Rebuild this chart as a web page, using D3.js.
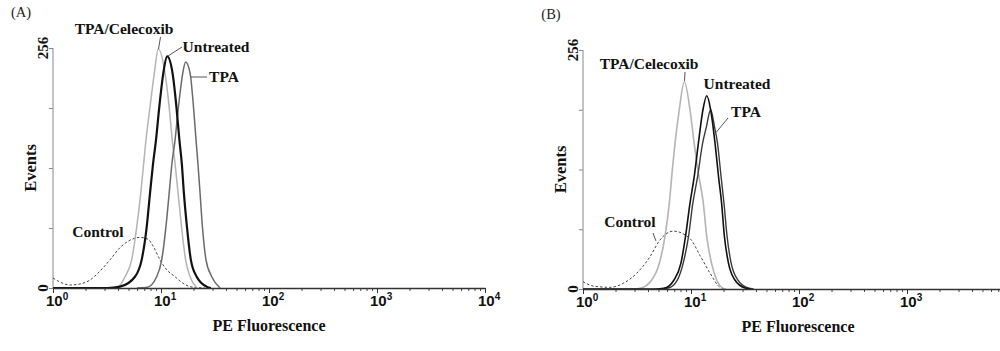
<!DOCTYPE html>
<html>
<head>
<meta charset="utf-8">
<script src="https://cdn.jsdelivr.net/npm/d3@7"></script>
<style>
  html, body { margin: 0; padding: 0; background: #fff; }
  svg { display: block; font-family: "Liberation Serif", "Times New Roman", serif; }
  .lbl { font-weight: bold; font-size: 15.5px; fill: #111; }
</style>
</head>
<body>
<div id="chart"></div>
<script>
// Data: [PE fluorescence, events]
const aControl = [[1, 10.7], [1.16, 6.4], [1.44, 3.2], [1.78, 4.3], [2.2, 8.5], [2.72, 18], [3.37, 30], [4.17, 43], [5.16, 51], [6.39, 54], [7.58, 52], [8.61, 43], [9.79, 30], [11.4, 19], [13.5, 12], [16.0, 5], [19.4, 1], [25.5, 0]];
const aCelecoxib = [[1, 0], [3.75, 0], [4.17, 3], [4.64, 12], [5.35, 30], [5.96, 65], [6.49, 101], [6.86, 129], [7.26, 158], [7.91, 193], [8.67, 229], [9.44, 255], [10.9, 229], [11.9, 193], [12.7, 158], [13.6, 129], [14.4, 101], [15.5, 65], [16.9, 30], [18.6, 12], [21.4, 0]];
const aUntreated = [[1, 0], [3.2, 0], [4.17, 1.4], [5.74, 12], [6.62, 30], [7.37, 65], [7.91, 101], [8.43, 132], [8.99, 158], [9.64, 193], [10.5, 229], [11.4, 247], [12.8, 229], [13.9, 193], [14.8, 158], [15.6, 132], [16.3, 101], [17.4, 65], [18.9, 30], [21.4, 12], [26.5, 1.4], [29, 0]];
const aTPA = [[6, 0], [7.37, 0.5], [9.12, 12], [10.15, 30], [11.1, 65], [11.9, 101], [12.6, 132], [13.5, 158], [14.5, 193], [15.9, 229], [16.9, 241], [18.6, 229], [20.0, 193], [21.1, 158], [22.0, 132], [23.0, 101], [24.2, 65], [26.1, 30], [29.5, 12], [35.2, 0]];

const bControl = [[1, 7.8], [1.24, 3.2], [1.78, 1.8], [2.36, 6.1], [3.14, 16.8], [4.17, 34.6], [5.16, 52.5], [6.86, 62], [9.79, 54], [12.1, 36], [15.0, 17], [18.6, 1.8], [21, 0]];
const bCelecoxib = [[1, 0], [3.0, 0], [3.37, 0.7], [4.33, 9.6], [5.09, 27.5], [5.74, 56], [6.30, 92], [6.71, 127], [7.11, 156], [7.79, 192], [8.67, 222], [9.79, 192], [10.7, 156], [11.7, 124], [13.0, 92], [14.0, 56], [15.5, 27.5], [17.3, 9.6], [19.9, 0.7], [21, 0]];
const bUntreated = [[1, 0], [4.64, 0], [5.62, 0.7], [6.96, 9.6], [8.08, 28], [8.89, 56], [9.79, 92], [10.7, 120], [11.7, 156], [12.9, 192], [14.0, 207], [15.2, 192], [16.7, 156], [18.0, 120], [19.2, 92], [20.4, 56], [22.2, 28], [25.5, 9.6], [31.6, 1.1], [36, 0]];
const bTPA = [[5.16, 0], [6.16, 1.1], [7.47, 9.6], [8.48, 28], [9.48, 56], [10.4, 92], [11.5, 120], [12.8, 156], [13.9, 174], [15.2, 192], [16.5, 174], [17.6, 156], [19.0, 120], [20.2, 92], [21.6, 56], [23.5, 28], [27.2, 9.6], [33.7, 1.1], [38, 0]];

// Axes
const decades = [1, 10, 100, 1000, 10000];
const decadeExponents = ['0', '1', '2', '3', '4'];
const yTicks = [0, 64, 128, 192, 256];
const yTickLabels = ['0', '', '', '', '256'];

// Minor ticks 2..9 in every decade
const minorTicks = [];
decades.slice(0, -1).forEach(d => {
    for (let k = 2; k <= 9; k++) minorTicks.push(d * k);
});

const width = 1000, height = 351;
const svg = d3.select('#chart').append('svg')
    .attr('width', width)
    .attr('height', height);

// Panel layouts (pixel positions only)
const panels = [
    {
        tag: '(A)', tagPos: [21, 17],
        xRange: [53, 485], yRange: [288, 48],
        eventsX: 31, titleX: 269, titleY: 331,
        series: [
            { data: aControl, color: '#444', w: 1, dash: '2.5,2' },
            { data: aCelecoxib, color: '#b4b4b4', w: 1.5 },
            { data: aTPA, color: '#6a6a6a', w: 1.5 },
            { data: aUntreated, color: '#111', w: 2.2 }
        ],
        labels: [
            { text: 'TPA/Celecoxib', x: 124, y: 29, line: [[160.5, 37], [158.5, 49]] },
            { text: 'Untreated', x: 216, y: 47, line: [[182, 47], [168, 56]] },
            { text: 'TPA', x: 224, y: 77, line: [[191, 77], [207, 77]] },
            { text: 'Control', x: 98, y: 232 }
        ]
    },
    {
        tag: '(B)', tagPos: [551, 19],
        xRange: [583, 1015], yRange: [289, 50],
        eventsX: 561, titleX: 798, titleY: 332,
        series: [
            { data: bControl, color: '#444', w: 1, dash: '2.5,2' },
            { data: bCelecoxib, color: '#b4b4b4', w: 1.6 },
            { data: bTPA, color: '#3a3a3a', w: 1.4 },
            { data: bUntreated, color: '#111', w: 1.6 }
        ],
        labels: [
            { text: 'TPA/Celecoxib', x: 649, y: 64, line: [[685, 72], [684.5, 81]] },
            { text: 'Untreated', x: 737, y: 84 },
            { text: 'TPA', x: 746, y: 112, line: [[728, 118], [716.5, 132]] },
            { text: 'Control', x: 630, y: 222, line: [[653, 233], [656, 241]] }
        ]
    }
];

panels.forEach(p => {
    const x = d3.scaleLog().domain([1, 10000]).range(p.xRange);
    const y = d3.scaleLinear().domain([0, 256]).range(p.yRange);
    const g = svg.append('g');

    // y axis
    const yAxis = g.append('g')
        .attr('transform', `translate(${p.xRange[0]},0)`)
        .call(d3.axisLeft(y).tickValues(yTicks).tickSize(4).tickFormat(''));
    yAxis.select('.domain').attr('stroke', '#888').attr('d', `M0,${y(0)}V${y(256)}`);
    yAxis.selectAll('.tick line').attr('stroke', '#888');

    g.selectAll('.ylab')
        .data(yTicks.filter((t, i) => yTickLabels[i] !== ''))
        .enter().append('text')
        .attr('class', 'lbl')
        .attr('transform', d => `translate(${p.xRange[0] - 10},${y(d)}) rotate(-90)`)
        .attr('text-anchor', 'middle')
        .attr('dy', '0.35em')
        .style('font-size', '15px')
        .text(d => yTickLabels[yTicks.indexOf(d)]);

    // curves
    const line = d3.line()
        .x(d => x(d[0]))
        .y(d => y(d[1]))
        .curve(d3.curveMonotoneX);

    g.selectAll('.curve')
        .data(p.series)
        .enter().append('path')
        .attr('class', 'curve')
        .attr('fill', 'none')
        .attr('stroke', d => d.color)
        .attr('stroke-width', d => d.w)
        .attr('stroke-dasharray', d => d.dash || null)
        .attr('d', d => line(d.data));

    // x axis: minor then major ticks
    const xMinor = g.append('g')
        .attr('transform', `translate(0,${y(0)})`)
        .call(d3.axisBottom(x).tickValues(minorTicks).tickSize(3).tickFormat(''));
    xMinor.select('.domain').remove();
    xMinor.selectAll('.tick line').attr('stroke', '#444');

    const xMajor = g.append('g')
        .attr('transform', `translate(0,${y(0)})`)
        .call(d3.axisBottom(x).tickValues(decades).tickSize(5).tickSizeOuter(0).tickFormat(''));
    xMajor.select('.domain').attr('stroke', '#333').attr('stroke-width', 1.5);
    xMajor.selectAll('.tick line').attr('stroke', '#333');

    // decade labels, only those inside the window
    const tl = xMajor.selectAll('.tick')
        .filter(d => x(d) < width - 10)
        .append('text')
        .attr('class', 'lbl')
        .attr('fill', '#111')
        .attr('y', 18)
        .attr('x', -7.5)
        .attr('text-anchor', 'start')
        .style('font-size', '15px');
    tl.append('tspan').text('10');
    tl.append('tspan')
        .attr('dy', -6)
        .style('font-size', '10px')
        .text(d => decadeExponents[decades.indexOf(d)]);

    // axis titles
    g.append('text')
        .attr('class', 'lbl')
        .attr('x', p.titleX)
        .attr('y', p.titleY)
        .attr('text-anchor', 'middle')
        .style('font-size', '16px')
        .text('PE Fluorescence');

    g.append('text')
        .attr('class', 'lbl')
        .attr('transform', `translate(${p.eventsX + 5},${(y(0) + y(256)) / 2}) rotate(-90)`)
        .attr('text-anchor', 'middle')
        .style('font-size', '16.5px')
        .text('Events');

    // panel tag
    g.append('text')
        .attr('x', p.tagPos[0])
        .attr('y', p.tagPos[1])
        .attr('text-anchor', 'middle')
        .style('font-size', '14.5px')
        .attr('fill', '#222')
        .text(p.tag);

    // annotations with pointer lines
    p.labels.forEach(l => {
        g.append('text')
            .attr('class', 'lbl')
            .attr('x', l.x)
            .attr('y', l.y)
            .attr('dy', '0.35em')
            .attr('text-anchor', 'middle')
            .text(l.text);
        if (l.line) {
            g.append('line')
                .attr('x1', l.line[0][0]).attr('y1', l.line[0][1])
                .attr('x2', l.line[1][0]).attr('y2', l.line[1][1])
                .attr('stroke', '#555')
                .attr('stroke-width', 1);
        }
    });
});
</script>
</body>
</html>
